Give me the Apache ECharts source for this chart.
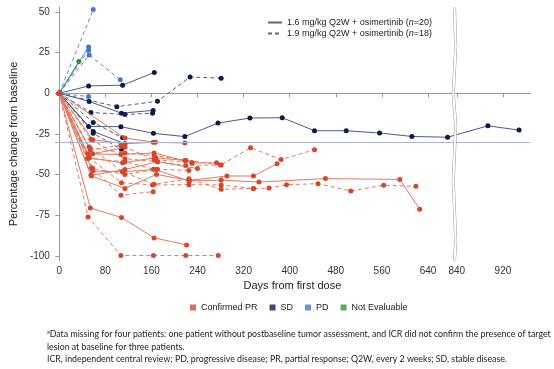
<!DOCTYPE html>
<html><head><meta charset="utf-8">
<script src="https://cdn.jsdelivr.net/npm/echarts@6/dist/echarts.min.js"></script>
<style>html,body{margin:0;padding:0;background:#fff}#c{width:554px;height:369px}</style>
</head><body><div id="c"></div>
<script>
// ---- tick labels ----
const xTicks = [0, 80, 160, 240, 320, 400, 480, 560, 640, 840, 920];
const yTicks = [-100, -75, -50, -25, 0, 25, 50];
const responseThreshold = -30;
const axisBreak = { start: 684, end: 838 };

// ---- categories ----
const responses = ['Confirmed PR', 'SD', 'PD', 'Not Evaluable'];
const doses = ['1.6 mg/kg Q2W + osimertinib (n=20)', '1.9 mg/kg Q2W + osimertinib (n=18)'];

// ---- patient trajectories [day, % change] ----
// Confirmed PR, 1.6 mg/kg (solid)
const pr16 = [
  [[0,0],[58,-28.5],[114,-31],[163,-30.1],[218,-30.5]],
  [[0,0],[114,-27.5],[167,-30.1]],
  [[0,0],[54,-70.4],[108,-76.3],[164.6,-88.8],[221,-93.1]],
  [[0,0],[56,-50.8],[114,-58.4],[168.7,-49.8],[226,-53.5],[291,-50.8],[337,-50.8],[378,-43.3]],
  [[0,0],[58,-47.8],[110,-48.2],[167.5,-46.8],[225,-53.9],[281,-53.3],[346.6,-54.5],[462,-52.4],[591,-52.9],[625.6,-71.2]],
  [[0,0],[50,-37.2],[107,-37.6],[164.6,-36.6],[231,-42.7],[273,-42.7]],
  [[0,0],[55,-50.4],[114,-46.8],[170.5,-42],[239.8,-46.2]],
  [[0,0],[52,-39.6],[110,-42.7],[167.5,-39.6],[218,-41.3]],
  [[0,0],[58,-37.2],[114,-33.2]]
];
// Confirmed PR, 1.9 mg/kg (dashed)
const pr19 = [
  [[0,0],[50,-75.9],[107,-99.6],[163.5,-99.6],[219.5,-99.6],[276,-99.6]],
  [[0,0],[56,-45.7],[107,-62.6],[163,-60.4]],
  [[0,0],[52,-39.6],[108,-54.9],[162,-56.3],[225,-56.1],[281,-56.3],[337,-58.5],[364,-58.2],[394.5,-56.1],[449,-55.5],[506,-60],[563,-56.5],[619,-57.1]],
  [[0,0],[52,-33.2],[114,-36.6],[164.6,-38.2],[219.5,-41.1],[280,-44.1],[332,-33.4],[385,-40.7],[443,-34.6]],
  [[0,0],[54,-34.6],[107,-32],[164.6,-40.7],[230,-42.7]],
  [[0,0],[55,-28.3],[114,-40.2],[170.5,-42],[219.5,-44.3],[281,-44]],
  [[0,0],[58,-46.2],[114,-49.8],[170.5,-46.6],[225,-47.4]],
  [[0,0],[52,-33],[110,-48.2],[164.6,-55.9],[225,-52.5],[281,-59],[337,-58.4]],
  [[0,0],[49,-40],[114,-42],[163.5,-46.6]]
];
// SD
const sd16 = [
  [[0,0],[51,4.5],[110,5],[165,12.8]],
  [[0,0],[52,-5],[108,-12.2],[163,-10.5]],
  [[0,0],[51,-20.4],[107,-20.5],[163.5,-24.6],[218,-26.6],[275.5,-18.3],[331,-15.2],[387,-15],[443,-23],[498,-23],[556,-24.4],[612,-26.5],[674,-27],[894,-20],[948,-22.6]],
  [[0,0],[59,-23.4],[114,-31]]
];
const sd19 = [
  [[0,0],[100,-8.2],[170.5,-4.9],[227,10],[281,9.3]],
  [[0,0],[55,-11.8],[114,-13],[162,-12.2]],
  [[0,0],[59,-17.9],[110,-27.3]],
  [[0,0],[59,-24.6],[108,-34.4]]
];
// PD
const pd16 = [
  [[0,0],[51,28.5]]
];
const pd19 = [
  [[0,0],[59,51.4]],
  [[0,0],[51,26.5]],
  [[0,0],[52,23.5],[106,8.3]],
  [[0,0],[51,-2]]
];
// Not evaluable
const ne16 = [
  [[0,0],[34,19.5]]
];

const dotColor = { 'Confirmed PR': '#d8452b', 'SD': '#0e1a48', 'PD': '#4676c9', 'Not Evaluable': '#2f9444' };
const lineColor = { 'Confirmed PR': '#e57860', 'SD': '#4e5b84', 'PD': '#5f8ad2', 'Not Evaluable': '#3e9c52' };

let idx = 0;
function mk(list, resp, dashed, z) {
  return list.map(d => ({
    type: 'line', name: 'pt' + (idx++), data: d,
    symbol: 'circle', symbolSize: 5, z: z,
    lineStyle: { color: lineColor[resp], width: 1, type: dashed ? [4, 3] : 'solid' },
    itemStyle: { color: dotColor[resp], borderWidth: 0 },
    emphasis: { disabled: true }
  }));
}

const series = [].concat(
  [{ type: 'line', name: 'ref', data: [], silent: true,
     markLine: { silent: true, symbol: 'none', label: { show: false },
       lineStyle: { color: '#aeb7d0', width: 1, type: 'solid' },
       data: [{ yAxis: responseThreshold }] } }],
  mk(sd16, 'SD', false, 3), mk(sd19, 'SD', true, 3),
  mk(pd16, 'PD', false, 3), mk(pd19, 'PD', true, 3),
  mk(ne16, 'Not Evaluable', false, 3),
  mk(pr16, 'Confirmed PR', false, 4), mk(pr19, 'Confirmed PR', true, 4),
  doses.map((n, i) => ({ type: 'line', name: n, data: [], symbol: 'none',
     itemStyle: { color: '#666' },
     lineStyle: { color: '#666', width: 1.2, type: i ? [4, 3] : 'solid' } })),
  responses.map(n => ({ type: 'scatter', name: n, data: [], itemStyle: { color: dotColor[n] } }))
);

const chart = echarts.init(document.getElementById('c'));
chart.setOption({
  animation: false,
  backgroundColor: '#fff',
  grid: { left: 54, right: 24, top: 7, bottom: 108, containLabel: false },
  xAxis: {
    type: 'value', min: -7.5, max: 967,
    breaks: [{ start: axisBreak.start, end: axisBreak.end, gap: 4 }],
    breakArea: { show: true, expandOnClick: false, zigzagAmplitude: 1.2, zigzagMinSpan: 30, zigzagMaxSpan: 60, zigzagZ: 100,
      itemStyle: { color: '#fff', borderColor: '#999', borderWidth: 1, borderType: 'solid', opacity: 1 } },
    name: 'Days from first dose', nameLocation: 'middle', nameGap: 19,
    nameTextStyle: { fontFamily: 'Liberation Sans', fontSize: 11, color: '#222' },
    axisLine: { lineStyle: { color: '#999' } },
    axisTick: { length: 4, lineStyle: { color: '#999' }, customValues: xTicks },
    axisLabel: { customValues: xTicks, fontFamily: 'Liberation Sans', fontSize: 10, color: '#333', margin: 5 },
    splitLine: { show: false }
  },
  yAxis: {
    type: 'value', min: -103, max: 53,
    name: 'Percentage change from baseline', nameLocation: 'middle', nameGap: 27,
    nameTextStyle: { fontFamily: 'Liberation Sans', fontSize: 11, color: '#222', padding: [0, 20, 0, 0] },
    axisLine: { show: true, lineStyle: { color: '#999' } },
    axisTick: { show: true, length: 4, lineStyle: { color: '#999' }, customValues: yTicks },
    axisLabel: { customValues: yTicks, fontFamily: 'Liberation Sans', fontSize: 10, color: '#333', margin: 5 },
    splitLine: { show: false }
  },
  legend: [
    { data: doses, orient: 'vertical', left: 262, top: 13, itemWidth: 14, itemHeight: 8, itemGap: 2,
      selectedMode: false,
      itemStyle: { opacity: 0 },
      formatter: n => { const m = n.match(/^(.*)\((n)(=\d+)\)$/); return '{a|' + m[1] + '(}{i|n}{a|' + m[3] + ')}'; },
      textStyle: { rich: { a: { fontFamily: 'Liberation Sans', fontSize: 9, color: '#222' },
                           i: { fontFamily: 'Liberation Sans', fontSize: 9, color: '#222', fontStyle: 'italic' } } } },
    { data: responses.map(n => ({ name: n, icon: 'rect' })), orient: 'horizontal', left: 185, top: 298,
      itemWidth: 6, itemHeight: 6, itemGap: 12, selectedMode: false,
      textStyle: { fontFamily: 'Liberation Sans', fontSize: 9, color: '#222' } }
  ],
  title: [{
    left: 42, top: 323,
    text: '{s|a}{t|Data missing for four patients: one patient without postbaseline tumor assessment, and ICR did not confirm the presence of target}\n{t|lesion at baseline for three patients.}\n{t|ICR, independent central review; PD, progressive disease; PR, partial response; Q2W, every 2 weeks; SD, stable disease.}',
    textStyle: { fontWeight: 'normal', rich: {
      t: { fontFamily: 'Lato', fontSize: 8.8, fontWeight: 'normal', color: '#222', lineHeight: 12.5 },
      s: { fontFamily: 'Lato', fontSize: 5.5, fontWeight: 'normal', color: '#222', lineHeight: 12.5, padding: [0, 0, 5, 0] } } }
  }],
  series: series
});
</script></body></html>
